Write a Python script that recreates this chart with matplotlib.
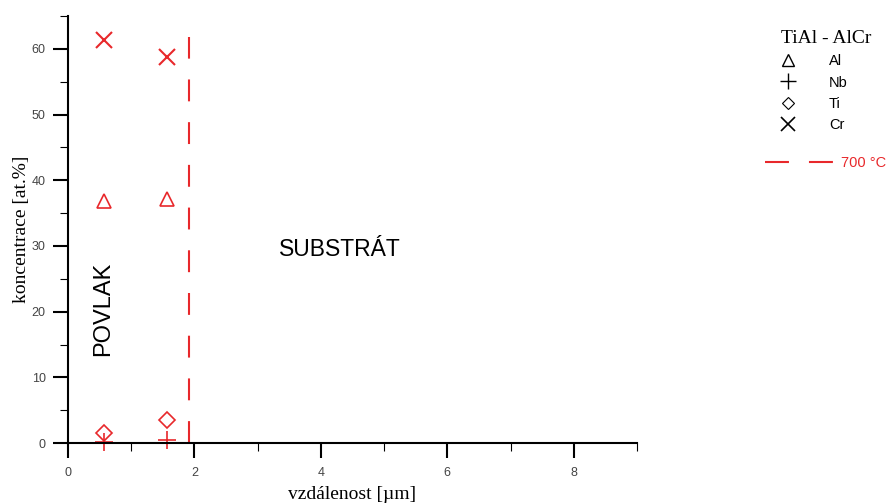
import matplotlib.pyplot as plt
from matplotlib.lines import Line2D
from matplotlib.ticker import MultipleLocator

# === DATA ===
x_pos = [0.57, 1.56]
al = [36.8, 37.1]
nb = [0.1, 0.45]
ti = [1.6, 3.5]
cr = [61.3, 58.8]
boundary_x = 1.92
boundary_top = 61.8

red = '#e8282b'
serif = ['Liberation Serif', 'DejaVu Serif']
sans = ['Liberation Sans', 'DejaVu Sans']

fig = plt.figure(figsize=(8.9, 5.04), dpi=100)
ax = fig.add_axes([0.0764, 0.121, 0.6394, 0.847])

ms = 10
ax.plot(x_pos, al, ls='none', marker='^', mfc='none', mec=red, ms=ms, mew=1.2, clip_on=False)
ax.plot(x_pos, nb, ls='none', marker='+', color=red, ms=ms + 3, mew=1.2, clip_on=False)
ax.plot(x_pos, ti, ls='none', marker='D', mfc='none', mec=red, ms=ms - 2, mew=1.2, clip_on=False)
ax.plot(x_pos, cr, ls='none', marker='x', color=red, ms=ms + 2, mew=1.5, clip_on=False)
ax.plot([boundary_x, boundary_x], [0, boundary_top], color=red, lw=1.5, dashes=(10.5, 10))

ax.text(4.3, 29.5, 'SUBSTRÁT', fontsize=16.5, family=sans, ha='center', va='center')
ax.text(0.55, 20.5, 'POVLAK', fontsize=17, family=sans, rotation=90, ha='center', va='center')

ax.set_xlim(0, 9)
ax.set_ylim(0, 65)
ax.xaxis.set_major_locator(MultipleLocator(2))
ax.xaxis.set_minor_locator(MultipleLocator(1))
ax.yaxis.set_major_locator(MultipleLocator(10))
ax.yaxis.set_minor_locator(MultipleLocator(5))
for s in ['top', 'right']:
    ax.spines[s].set_visible(False)
for s in ['left', 'bottom']:
    ax.spines[s].set_linewidth(1.5)
ax.tick_params(which='major', direction='out', length=11, width=1.5, labelsize=9,
               labelcolor='#444444', pad=5)
ax.tick_params(axis='x', which='major', pad=6)
ax.tick_params(which='minor', direction='out', length=6, width=0.8)
for lab in ax.get_xticklabels() + ax.get_yticklabels():
    lab.set_family(sans)

ax.set_xlabel('vzdálenost [µm]', fontsize=14, family=serif, labelpad=5)
ax.set_ylabel('koncentrace [at.%]', fontsize=14, family=serif, labelpad=1)

handles = [
    Line2D([], [], ls='none', marker='^', mfc='none', mec='black', ms=8, mew=1),
    Line2D([], [], ls='none', marker='+', color='black', ms=11, mew=1),
    Line2D([], [], ls='none', marker='D', mfc='none', mec='black', ms=6, mew=0.8),
    Line2D([], [], ls='none', marker='x', color='black', ms=10, mew=1.2),
]
leg = fig.legend(handles, ['Al', 'Nb', 'Ti', 'Cr'], loc='upper left',
                 bbox_to_anchor=(0.869, 0.955), frameon=False, title='TiAl - AlCr',
                 prop={'family': sans, 'size': 10.5}, handlelength=1.0, handletextpad=2.3,
                 labelspacing=0.5, borderpad=0)
leg.get_title().set_family(serif)
leg.get_title().set_fontsize(14)
leg._legend_box.align = 'left'

leg2 = fig.legend([Line2D([], [], color=red, lw=1.5, dashes=(11.5, 9.6))], ['700 °C'],
                  loc='upper left', bbox_to_anchor=(0.851, 0.705), frameon=False,
                  prop={'family': sans, 'size': 10.5}, handlelength=4.7, handletextpad=0.5,
                  borderpad=0, labelcolor=red)

fig.savefig('out.png', dpi=100)
